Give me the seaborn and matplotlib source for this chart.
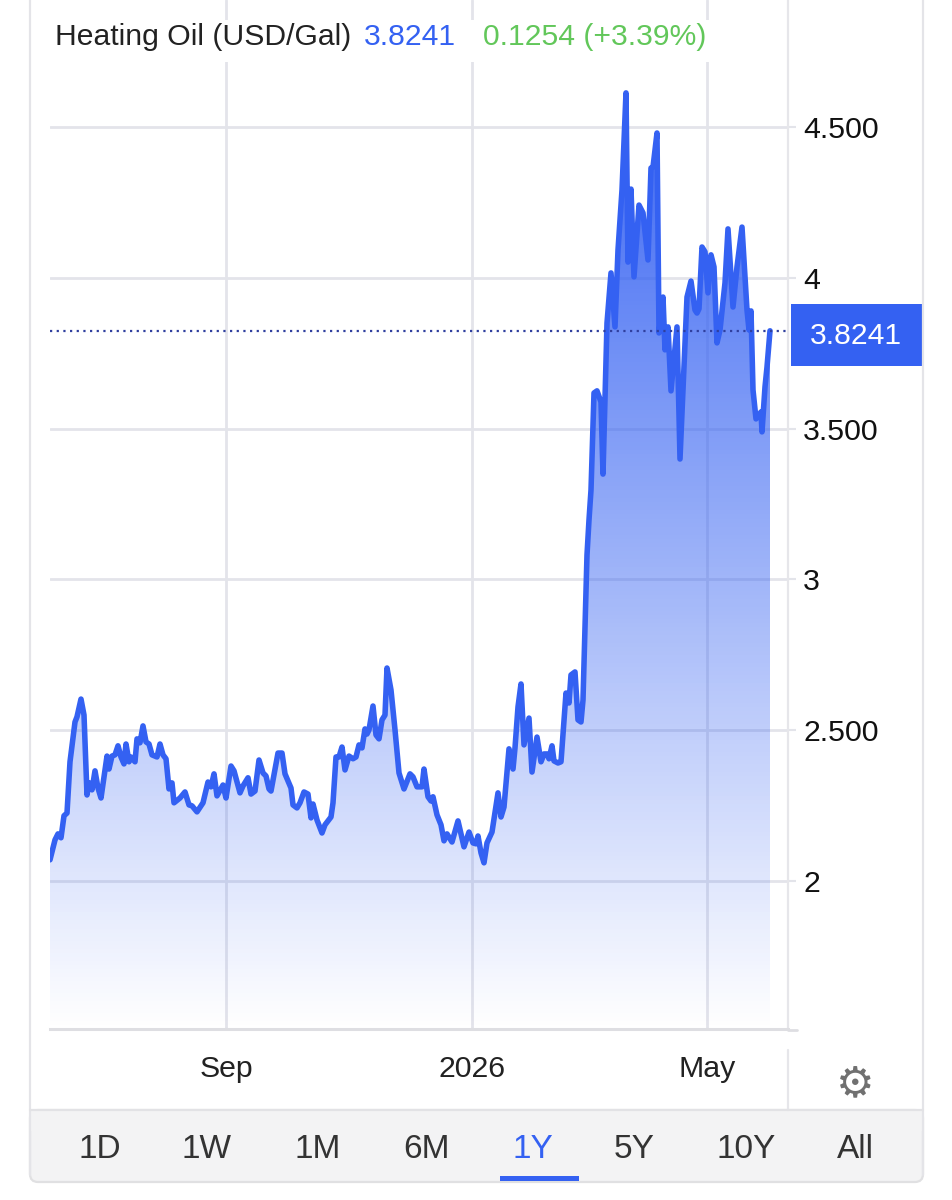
import numpy as np
import pandas as pd
import matplotlib
matplotlib.use("Agg")
import matplotlib.pyplot as plt
from matplotlib.patches import Rectangle, FancyBboxPatch
import seaborn as sns

# days since the first point of the window, prices in USD/Gal
days = [0, 2.5, 4, 5.5, 7, 8.5, 10, 12.5, 13.5, 15.5, 17, 18.5, 19.5, 20.5, 21, 22.5, 24, 25.5,
        28.5, 29.5, 31, 32.5, 34, 35.5, 37, 38, 39.5, 40.5, 42.5, 43.5, 45, 46.5, 48, 49.5,
        51, 53.5, 55, 56.5, 58, 59.5, 60.5, 61, 62, 65, 67.5, 69.5, 71, 73.5, 76.5, 79, 80.5,
        82, 83.5, 86.5, 88, 90.5, 92, 95, 96.5, 99, 100.5, 102.5, 104.5, 106.5, 108, 109.5,
        110.5, 114, 116, 117.5, 120.5, 121.5, 123.5, 125, 127, 129, 130.5, 131.5, 133.5, 136,
        137.5, 140.5, 141.5, 143, 144.5, 146, 147.5, 149.5, 151.5, 153, 154.5, 156, 157.5,
        158.5, 159.5, 161.5, 163, 164.5, 166, 167.5, 168.5, 170.5, 172.5, 174.5, 177, 180,
        181.5, 183.5, 186, 187, 189, 190.5, 191.5, 193.5, 195.5, 197, 198.5, 201, 204, 207,
        209.5, 211.5, 213, 214, 215.5, 217, 218.5, 221, 224, 225.5, 227, 229.5, 231.5, 232.5,
        234, 235.5, 237, 239.5, 241, 243.5, 245.5, 247, 248.5, 249.5, 251, 252, 254, 255.5,
        258, 259.5, 260.5, 262.5, 264, 265.5, 266.5, 268.5, 269.5, 270.5, 272, 273.5, 275.5,
        276.5, 278.5, 280.5, 282.5, 284, 286, 288, 289, 290.5, 292, 294.5, 296.5, 299, 300.5,
        301.5, 303.5, 304.5, 306.5, 307.5, 309, 310.5, 313.5, 315, 318.5, 320.5, 322.5, 323.5,
        324.5, 326, 327.5, 329, 330.5, 332, 333.5, 335, 337.5, 339, 341.5, 343.5, 346, 348.5,
        349.5, 350.5, 351.5, 353, 355.5, 356, 357.5, 358.5, 360]
prices = [2.07, 2.136, 2.156, 2.143, 2.216, 2.225, 2.395, 2.527, 2.544, 2.603, 2.55, 2.285, 2.325,
          2.322, 2.302, 2.365, 2.308, 2.275, 2.414, 2.371, 2.414, 2.418, 2.448, 2.411, 2.388,
          2.454, 2.395, 2.411, 2.395, 2.471, 2.458, 2.514, 2.461, 2.454, 2.418, 2.411, 2.454,
          2.418, 2.405, 2.305, 2.325, 2.325, 2.259, 2.275, 2.295, 2.252, 2.249, 2.229, 2.259,
          2.328, 2.312, 2.355, 2.282, 2.318, 2.275, 2.381, 2.365, 2.292, 2.315, 2.342, 2.288,
          2.298, 2.401, 2.358, 2.348, 2.305, 2.298, 2.424, 2.424, 2.355, 2.308, 2.252, 2.242,
          2.259, 2.295, 2.288, 2.209, 2.255, 2.202, 2.159, 2.186, 2.212, 2.259, 2.411, 2.411,
          2.444, 2.368, 2.414, 2.405, 2.411, 2.451, 2.441, 2.504, 2.487, 2.501, 2.58, 2.484,
          2.471, 2.534, 2.55, 2.706, 2.633, 2.501, 2.358, 2.305, 2.355, 2.345, 2.312, 2.312,
          2.371, 2.279, 2.265, 2.279, 2.219, 2.186, 2.133, 2.156, 2.129, 2.199, 2.113, 2.162,
          2.126, 2.123, 2.149, 2.093, 2.06, 2.126, 2.162, 2.292, 2.212, 2.245, 2.438, 2.371,
          2.441, 2.577, 2.653, 2.451, 2.54, 2.361, 2.477, 2.395, 2.421, 2.421, 2.405, 2.448,
          2.398, 2.391, 2.395, 2.623, 2.59, 2.683, 2.693, 2.534, 2.527, 2.6, 3.081, 3.197,
          3.296, 3.618, 3.625, 3.588, 3.349, 3.85, 4.016, 3.837, 4.092, 4.291, 4.613, 4.052,
          4.294, 4.003, 4.241, 4.215, 4.059, 4.364, 4.367, 4.48, 3.817, 3.936, 3.761, 3.837,
          3.625, 3.837, 3.399, 3.936, 3.989, 3.893, 3.883, 3.897, 4.102, 4.086, 3.95, 4.076,
          4.036, 3.784, 3.827, 3.983, 4.162, 3.903, 4.036, 4.168, 3.893, 3.827, 3.89, 3.628,
          3.532, 3.555, 3.489, 3.638, 3.704, 3.8241]

y_ticks = [2, 2.5, 3, 3.5, 4, 4.5]
y_labels = ["2", "2.500", "3", "3.500", "4", "4.500"]
x_ticks = [88, 211, 328.5]
x_labels = ["Sep", "2026", "May"]
ranges = ["1D", "1W", "1M", "6M", "1Y", "5Y", "10Y", "All"]

BLUE = "#3461f2"
GRID = "#e3e4ea"
FONT = "Liberation Sans"

sns.set_style("white")
plt.rcParams["font.family"] = [FONT, "DejaVu Sans"]

W, H = 953, 1200
fig = plt.figure(figsize=(W / 100, H / 100), dpi=100)
ax = fig.add_axes([50 / W, (H - 1029) / H, (788 - 50) / W, 1029 / H])

df = pd.DataFrame({"day": days, "price": prices})
ymin, ymax = 1.509, 4.921

# gradient area below the line, sits over the grid so the grid shows through
grad = np.zeros((256, 1, 4))
grad[..., :3] = matplotlib.colors.to_rgb(BLUE)
grad[:, 0, 3] = np.minimum(np.linspace(1.07, 0, 256), 1)
im = ax.imshow(grad, extent=[0, 360, ymin, ymax], aspect="auto", origin="upper", zorder=1.7)
poly = ax.fill_between(days, prices, ymin, color="none")
im.set_clip_path(poly.get_paths()[0], transform=ax.transData)

sns.lineplot(data=df, x="day", y="price", color=BLUE, linewidth=4.0, estimator=None,
             errorbar=None, ax=ax, zorder=3, solid_joinstyle="round", solid_capstyle="round")
ax.axhline(3.8241, color="#2f3f9e", linewidth=1.6, linestyle=(0, (1, 2)), zorder=3)

ax.set_xlim(0, 369)
ax.set_ylim(ymin, ymax)
ax.set_xlabel("")
ax.set_ylabel("")
ax.yaxis.tick_right()
ax.set_yticks(y_ticks, y_labels)
ax.set_xticks(x_ticks, x_labels)
ax.tick_params(axis="y", length=6, width=1.5, color=GRID, pad=5, labelsize=21.8, labelcolor="#111111", right=True)
ax.tick_params(axis="x", length=0, pad=19, labelsize=21.8, labelcolor="#222222")
ax.grid(True, color=GRID, linewidth=2.0)
ax.set_axisbelow("line")
for side in ["top", "left"]:
    ax.spines[side].set_visible(False)
ax.spines["right"].set_color("#e6e6ea")
ax.spines["right"].set_linewidth(1.6)
ax.spines["bottom"].set_color("#dedee2")
ax.spines["bottom"].set_linewidth(2.2)

# page furniture on a full-figure overlay in pixel coordinates
ui = fig.add_axes([0, 0, 1, 1], zorder=5)
ui.set_xlim(0, W)
ui.set_ylim(H, 0)
ui.axis("off")
ui.add_patch(Rectangle((40, 20), 680, 42, facecolor="white", edgecolor="none"))
ui.text(55, 37, "Heating Oil (USD/Gal)", fontsize=21.7, color="#222222", va="center")
ui.text(364, 37, "3.8241", fontsize=21.7, color=BLUE, va="center")
ui.text(483, 37, "0.1254 (+3.39%)", fontsize=21.7, color="#62c75a", va="center")

ui.add_patch(Rectangle((791, 304), 131, 62, facecolor=BLUE, edgecolor="none"))
ui.text(856, 336, "3.8241", fontsize=21.7, color="white", ha="center", va="center")

# card outline and range selector
ui.plot([30, 30], [0, 1175], color="#e4e4e8", linewidth=1.6)
ui.plot([923, 923], [0, 1175], color="#e4e4e8", linewidth=1.6)
ui.plot([788, 788], [1050, 1110], color="#e6e6ea", linewidth=1.6)
ui.plot([788, 797], [1030, 1030], color="#dedee2", linewidth=2)
ui.add_patch(FancyBboxPatch((30, 1110), 893, 72, boxstyle="round,pad=0,rounding_size=8",
                            facecolor="#f3f3f4", edgecolor="#e0e0e2", linewidth=1.6))
ui.add_patch(Rectangle((31, 1111), 891, 20, facecolor="#f3f3f4", edgecolor="none"))
ui.plot([30, 923], [1110, 1110], color="#e2e2e5", linewidth=1.6)

for label, x in zip(ranges, [100, 207, 318, 427, 533, 634, 746, 855]):
    ui.text(x, 1150, label, fontsize=24, ha="center", va="center",
            color=BLUE if label == "1Y" else "#333333")
ui.add_patch(Rectangle((500, 1176), 79, 5, facecolor=BLUE, edgecolor="none"))
ui.text(855, 1084, "\u2699", fontsize=31, family="DejaVu Sans", color="#707070", ha="center", va="center")

fig.savefig("out.png", dpi=100)
